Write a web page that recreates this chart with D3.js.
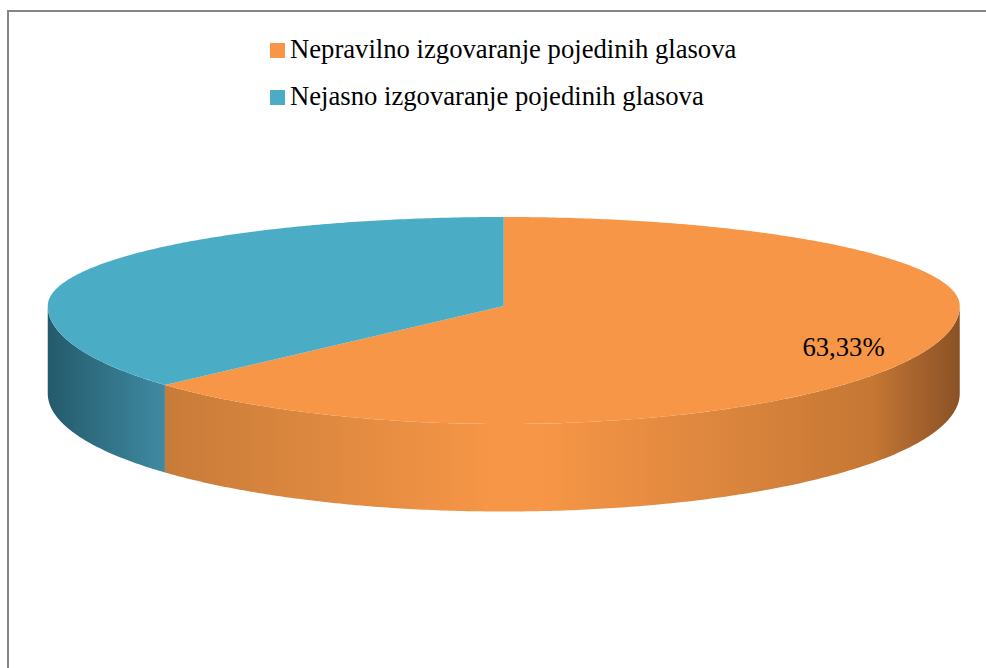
<!DOCTYPE html>
<html>
<head>
<meta charset="utf-8">
<script src="https://cdn.jsdelivr.net/npm/d3@7"></script>
<style>
  html, body { margin: 0; padding: 0; background: #fff; }
  svg { display: block; }
  text { font-family: "Liberation Serif", serif; fill: #000; }
</style>
</head>
<body>
<div id="chart"></div>
<script>
const categories = ['Nepravilno izgovaranje pojedinih glasova', 'Nejasno izgovaranje pojedinih glasova'];
const values = [63.33, 36.67];
const labels = ['63,33%', null];
const colors = ['#f79646', '#4bacc6'];

const width = 986, height = 668;
const cx = 503.75, cy = 306, rx = 456;
// perspective: the near half of the disc is taller than the far half
const ryFar = 89, ryNear = 118, depth = 87.5;

const svg = d3.select('#chart').append('svg')
    .attr('width', width)
    .attr('height', height);

// frame, only the top and left edges are in view
const frame = d3.path();
frame.moveTo(8, height);
frame.lineTo(8, 11);
frame.lineTo(width, 11);
svg.append('path')
    .attr('d', frame.toString())
    .attr('fill', 'none')
    .attr('stroke', '#868686')
    .attr('stroke-width', 2);

const defs = svg.append('defs');
const xPos = d3.scaleLinear().domain([-1, 1]).range([cx - rx, cx + rx]);

function sideGradient(id, stops) {
    defs.append('linearGradient')
        .attr('id', id)
        .attr('gradientUnits', 'userSpaceOnUse')
        .attr('x1', cx - rx).attr('y1', 0)
        .attr('x2', cx + rx).attr('y2', 0)
        .selectAll('stop')
        .data(stops)
        .join('stop')
        .attr('offset', d => d[0])
        .attr('stop-color', d => d[1]);
}
sideGradient('side0', [[0.128, '#c87b38'], [0.28, '#db873f'], [0.49, '#f79646'], [0.54, '#f79646'], [0.76, '#d9843d'], [0.905, '#c57733'], [0.942, '#ad672f'], [1, '#8a5225']]);
sideGradient('side1', [[0, '#245a6b'], [0.128, '#3f8aa2']]);

const pie = d3.pie().sort(null)(values);

function project(a, dy = 0) {
    const c = Math.cos(a);
    return [xPos(Math.sin(a)), cy - (c > 0 ? ryFar : ryNear) * c + dy];
}
function arcPoints(a0, a1, dy = 0) {
    const n = Math.max(2, Math.ceil((a1 - a0) / 0.01));
    return d3.range(n + 1).map(i => project(a0 + (a1 - a0) * i / n, dy));
}
const line = d3.line();

// side wall: only the part of each slice on the near half shows
const nearStart = Math.PI / 2, nearEnd = Math.PI * 1.5;
svg.append('g').selectAll('path')
    .data(pie.filter(d => d.endAngle > nearStart && d.startAngle < nearEnd))
    .join('path')
    .attr('fill', d => `url(#side${d.index})`)
    .attr('d', d => {
        const a0 = Math.max(d.startAngle, nearStart), a1 = Math.min(d.endAngle, nearEnd);
        return line(arcPoints(a0, a1).concat(arcPoints(a0, a1, depth).reverse())) + 'Z';
    });

// top of the disc
svg.append('g').selectAll('path')
    .data(pie)
    .join('path')
    .attr('fill', (d, i) => colors[i])
    .attr('d', d => line([[cx, cy]].concat(arcPoints(d.startAngle, d.endAngle))) + 'Z');

// data label
svg.append('g').selectAll('text')
    .data(pie.filter((d, i) => labels[i]))
    .join('text')
    .attr('x', 843.5)
    .attr('y', 356)
    .attr('text-anchor', 'middle')
    .attr('font-size', 26.67)
    .text(d => labels[d.index]);

// legend
const legendY = d3.scalePoint().domain(categories).range([50, 97]);
const legend = svg.append('g').selectAll('g')
    .data(categories)
    .join('g')
    .attr('transform', d => `translate(270,${legendY(d)})`);
legend.append('rect')
    .attr('y', -7)
    .attr('width', 15)
    .attr('height', 15)
    .attr('fill', (d, i) => colors[i]);
legend.append('text')
    .attr('x', 20)
    .attr('y', 8)
    .attr('font-size', 26.67)
    .text(d => d);
</script>
</body>
</html>
